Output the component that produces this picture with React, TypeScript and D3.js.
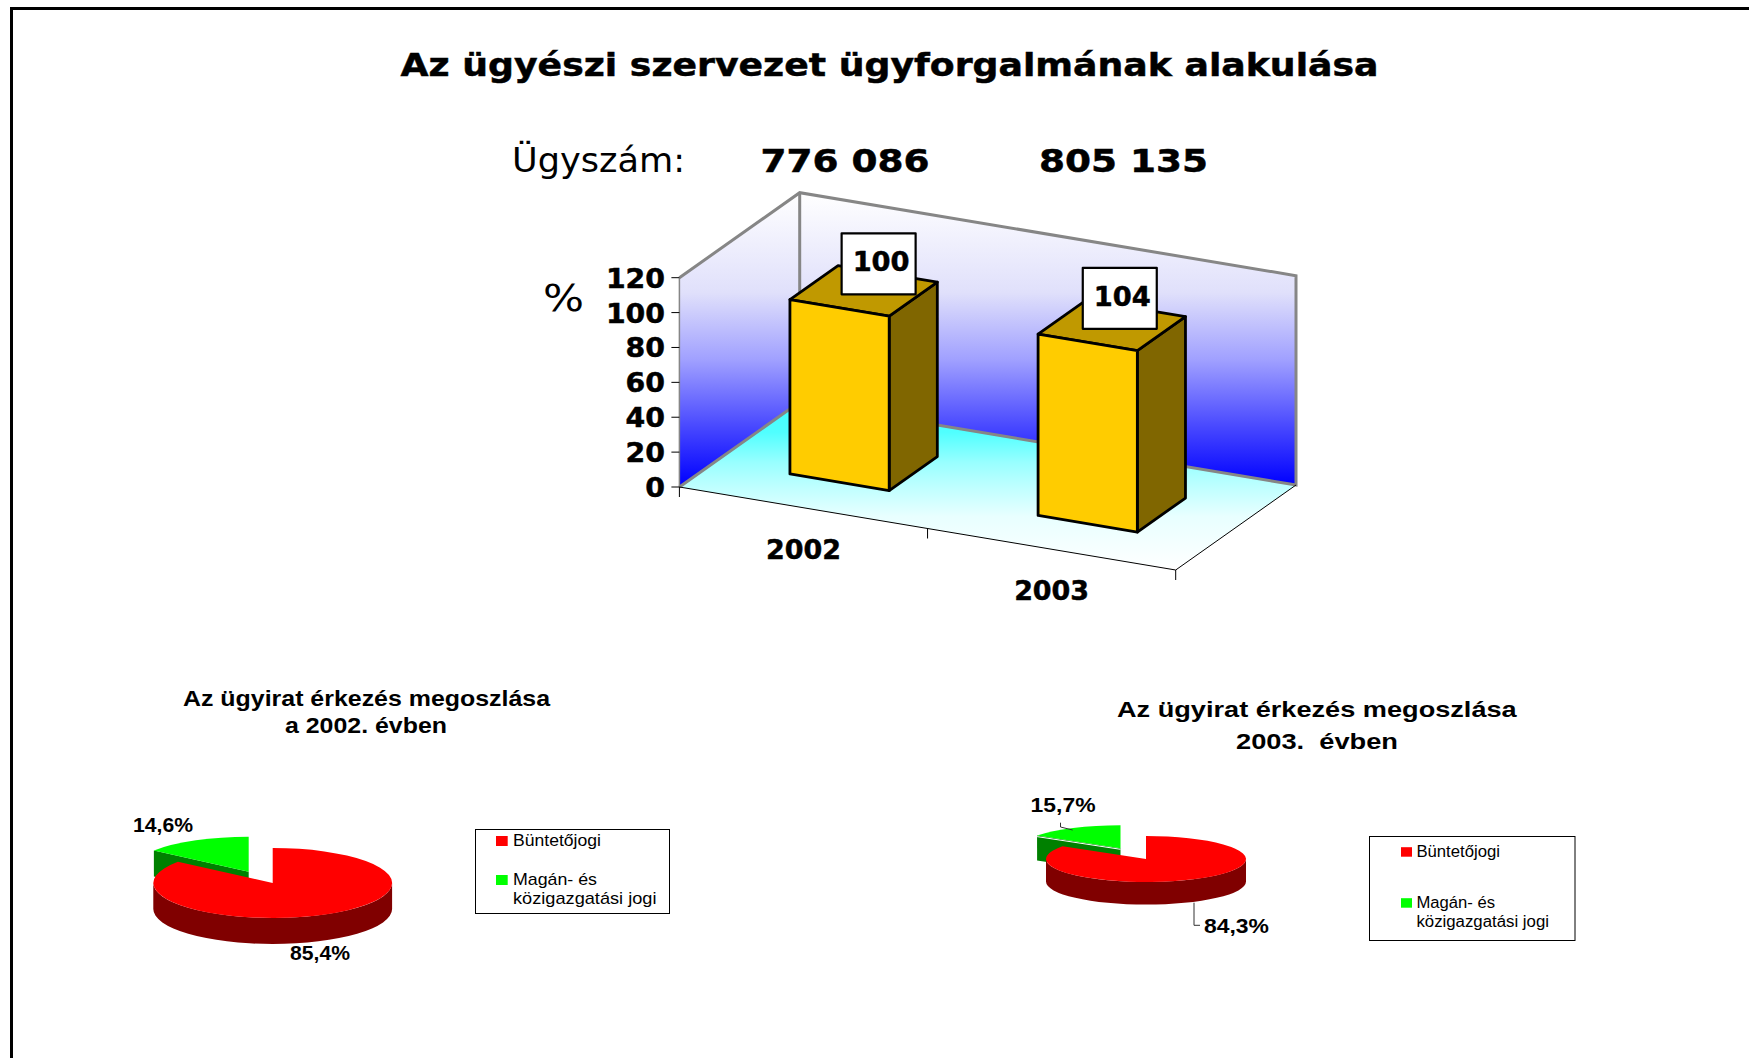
import React from "react";
import * as d3 from "d3";

const mainTitle = "Az ügyészi szervezet ügyforgalmának alakulása";
const caseLabel = "Ügyszám:";
const caseCounts = ["776 086", "805 135"];
const years = ["2002", "2003"];
const indexValues = [100, 104];
const yTicks = [0, 20, 40, 60, 80, 100, 120];
const yUnit = "%";
const legendNames = ["Büntetőjogi", "Magán- és", "közigazgatási jogi"];
const pie2002 = [85.4, 14.6];
const pie2003 = [84.3, 15.7];
const pie2002Title = ["Az ügyirat érkezés megoszlása", "a 2002. évben"];
const pie2003Title = ["Az ügyirat érkezés megoszlása", "2003.  évben"];

const SANS = "'Liberation Sans', Arial, sans-serif";
const WIDE = "'DejaVu Sans', Verdana, sans-serif";

// 3D frame of the bar chart
const O = { x: 679.4, y: 487 };
const W = { x: 496.3, y: 83 };
const D = { x: 120.3, y: -85 };
const yScale = d3.scaleLinear().domain([0, 120]).range([0, 209.3]);
const tScale = d3.scaleBand<string>().domain(years).range([0, 1]).paddingInner(0.6).paddingOuter(0.3);
const P = (t: number, d: number, v: number): [number, number] => [
  O.x + W.x * t + D.x * d,
  O.y + W.y * t + D.y * d - yScale(v),
];
const poly = (pts: [number, number][]) => d3.line()(pts)! + "Z";
const D0 = 0.3;
const D1 = 0.7;
const labelOffsets = [[15, -27], [8, -27]];

const wallStops: [number, string][] = [[0, "#ffffff"], [0.342, "#e0e0fb"], [0.572, "#a0a0ff"], [0.801, "#4848ff"], [1, "#0000ff"]];
const floorStops: [number, string][] = [[0, "#40ffff"], [0.18, "#50ffff"], [0.36, "#98ffff"], [0.48, "#b8ffff"], [0.68, "#e8ffff"], [1, "#ffffff"]];

function T({ x, y, w, size, bold, font = SANS, children, anchor, heavy }: any) {
  return (
    <text x={x} y={y} fontFamily={font} fontSize={size} fontWeight={bold ? 700 : 400} fill="#000"
      stroke={heavy ? "#000" : "none"} strokeWidth={heavy ? 0.5 : 0}
      textLength={w} lengthAdjust="spacingAndGlyphs" textAnchor={anchor} xmlSpace="preserve">
      {children}
    </text>
  );
}

function Pie3D({ values, cx, cy, rx, ry, depth, gx, gy, greenDepth, seam }: any) {
  const arcs = d3.pie<number>().sort(null)(values);
  const ky = ry / rx;
  const arc = d3.arc<any>().innerRadius(0).outerRadius(rx);
  const red = arcs[0];
  const green = arcs[1];
  const band = d3.path();
  const dz = depth / ky;
  band.moveTo(-rx, 0);
  band.lineTo(-rx, dz);
  band.arc(0, dz, rx, Math.PI, 0, true);
  band.lineTo(rx, 0);
  band.arc(0, 0, rx, 0, Math.PI, false);
  band.closePath();
  const a = green.startAngle;
  const tip: [number, number] = [gx + rx * Math.sin(a), gy - ry * Math.cos(a)];
  const apex: [number, number] = [gx, gy];
  return (
    <g>
      <path d={poly([tip, apex, [apex[0], apex[1] + greenDepth], [tip[0], tip[1] + greenDepth]])} fill="#008000" />
      <path d={arc(green)!} transform={`translate(${gx},${gy}) scale(1,${ky})`} fill="#00ff00" />
      {seam && <line x1={tip[0]} y1={tip[1] + 1} x2={apex[0]} y2={apex[1] + 1} stroke="#fff" strokeWidth={1} />}
      <path d={band.toString()} transform={`translate(${cx},${cy}) scale(1,${ky})`} fill="#800000" />
      <path d={arc(red)!} transform={`translate(${cx},${cy}) scale(1,${ky})`} fill="#ff0000" />
    </g>
  );
}

function Legend({ box, swatch, ys, rows, size }: any) {
  return (
    <g>
      <rect x={box[0]} y={box[1]} width={box[2]} height={box[3]} fill="#fff" stroke="#000" strokeWidth={1} />
      <rect x={swatch[0]} y={ys[0] - swatch[2]} width={swatch[1]} height={swatch[2]} fill="#ff0000" />
      <rect x={swatch[0]} y={ys[1] - swatch[2]} width={swatch[1]} height={swatch[2]} fill="#00ff00" />
      {legendNames.map((n, i) => (
        <T key={n} x={rows[0]} y={ys[i]} w={rows[i + 1]} size={size}>{n}</T>
      ))}
    </g>
  );
}

export default function App() {
  const wallTop = P(0, 1, 120)[1];
  const wallBottom = P(1, 1, 0)[1];
  const floorTop = P(0, 1, 0)[1];
  const floorBottom = P(1, 0, 0)[1];
  return (
    <svg width={1749} height={1058} viewBox="0 0 1749 1058" style={{ position: "absolute", left: 0, top: 0, display: "block" }}>
      <defs>
        <linearGradient id="wall" gradientUnits="userSpaceOnUse" x1={0} y1={wallTop} x2={0} y2={wallBottom}>
          {wallStops.map(([o, c]) => <stop key={o} offset={o} stopColor={c} />)}
        </linearGradient>
        <linearGradient id="floor" gradientUnits="userSpaceOnUse" x1={0} y1={floorTop} x2={0} y2={floorBottom}>
          {floorStops.map(([o, c]) => <stop key={o} offset={o} stopColor={c} />)}
        </linearGradient>
      </defs>
      <rect width={1749} height={1058} fill="#fff" />
      <path d="M11.5,1058 V8.5 H1749" fill="none" stroke="#000" strokeWidth={3} />

      <T x={400.5} y={75.7} w={978} size={32} bold heavy font={WIDE}>{mainTitle}</T>
      <T x={512} y={171.7} w={173} size={34} font={WIDE}>{caseLabel}</T>
      <T x={760.5} y={171.7} w={169} size={32} bold heavy font={WIDE}>{caseCounts[0]}</T>
      <T x={1039} y={171.7} w={169} size={32} bold heavy font={WIDE}>{caseCounts[1]}</T>
      <T x={543} y={310.7} w={41} size={38} font={WIDE}>{yUnit}</T>

      {/* walls and floor */}
      <path d={poly([P(0, 1, 0), P(1, 1, 0), P(1, 1, 120), P(0, 1, 120)])} fill="url(#wall)" />
      <path d={poly([P(0, 0, 0), P(0, 1, 0), P(0, 1, 120), P(0, 0, 120)])} fill="url(#wall)" />
      <path d={poly([P(0, 0, 0), P(1, 0, 0), P(1, 1, 0), P(0, 1, 0)])} fill="url(#floor)" />
      <path d={d3.line()([P(0, 0, 120), P(0, 1, 120), P(1, 1, 120), P(1, 1, 0), P(0, 1, 0), P(0, 0, 0)])!} fill="none" stroke="#868686" strokeWidth={3} />
      <path d={d3.line()([P(0, 1, 120), P(0, 1, 0)])!} fill="none" stroke="#868686" strokeWidth={3} />
      <path d={d3.line()([P(0, 0, 0), P(0, 0, 120)])!} fill="none" stroke="#868686" strokeWidth={1.5} />
      <path d={d3.line()([P(0, 0, 0), P(1, 0, 0), P(1, 1, 0)])!} fill="none" stroke="#000" strokeWidth={1} />

      {/* axes */}
      {yTicks.map((v) => {
        const [x, y] = P(0, 0, v);
        return (
          <g key={v}>
            <line x1={x - 8} x2={x} y1={y} y2={y} stroke="#000" strokeWidth={1} />
            <T x={665} y={y + 10} size={27} bold heavy font={WIDE} anchor="end" w={String(v).length * 19.7}>{v}</T>
          </g>
        );
      })}
      {[0, 0.5, 1].map((t) => {
        const [x, y] = P(t, 0, 0);
        return <line key={t} x1={x} x2={x} y1={y} y2={y + 10} stroke="#000" strokeWidth={1} />;
      })}
      {years.map((yr) => {
        const [x, y] = P((tScale(yr)! + tScale.bandwidth() / 2), 0, 0);
        return <T key={yr} x={x - 37.5} y={y + 51} w={75} size={27} bold heavy font={WIDE}>{yr}</T>;
      })}

      {/* bars */}
      {years.map((yr, i) => {
        const t0 = tScale(yr)!;
        const t1 = t0 + tScale.bandwidth();
        const v = indexValues[i];
        const tc = (t0 + t1) / 2;
        const [lx, ly] = P(tc, (D0 + D1) / 2, v);
        const bx = lx + labelOffsets[i][0];
        const by = ly + labelOffsets[i][1];
        return (
          <g key={yr} stroke="#000" strokeWidth={2.8} strokeLinejoin="round">
            <path d={poly([P(t1, D0, 0), P(t1, D1, 0), P(t1, D1, v), P(t1, D0, v)])} fill="#806600" />
            <path d={poly([P(t0, D0, v), P(t1, D0, v), P(t1, D1, v), P(t0, D1, v)])} fill="#c09900" />
            <path d={poly([P(t0, D0, 0), P(t1, D0, 0), P(t1, D0, v), P(t0, D0, v)])} fill="#ffcc00" />
            <rect x={bx - 37} y={by - 30.5} width={74} height={61} fill="#fff" strokeWidth={2.2} />
            <g stroke="none">
              <T x={bx - 26} y={by + 7.5} w={57} size={27} bold heavy font={WIDE}>{v}</T>
            </g>
          </g>
        );
      })}

      {/* 2002 pie */}
      <T x={183} y={705.5} w={367} size={22} bold>{pie2002Title[0]}</T>
      <T x={285} y={733.3} w={162} size={22} bold>{pie2002Title[1]}</T>
      <Pie3D values={pie2002} cx={272.7} cy={883} rx={119.4} ry={35} depth={26} gx={248.7} gy={871.7} greenDepth={26} />
      <T x={133} y={831.7} w={60} size={20} bold>{pie2002[1].toFixed(1).replace(".", ",")}%</T>
      <T x={290} y={960} w={60} size={20} bold>{pie2002[0].toFixed(1).replace(".", ",")}%</T>
      <Legend box={[475.5, 829.5, 194, 84]} swatch={[496, 11.7, 10]} ys={[846, 885, 904]} rows={[513, 88, 84, 143.5]} size={17} />

      {/* 2003 pie */}
      <T x={1117} y={717.3} w={399.7} size={22} bold>{pie2003Title[0]}</T>
      <T x={1236} y={749.3} w={162} size={22} bold>{pie2003Title[1]}</T>
      <Pie3D values={pie2003} cx={1146} cy={859} rx={100} ry={23} depth={22.6} gx={1120.5} gy={848.3} greenDepth={25} seam />
      <path d="M1194,902.7 V925.3 H1200" fill="none" stroke="#333" strokeWidth={1} />
      <path d="M1060.5,822.7 V827 L1072.7,830" fill="none" stroke="#333" strokeWidth={1} />
      <T x={1030.6} y={812.3} w={65} size={21} bold>{pie2003[1].toFixed(1).replace(".", ",")}%</T>
      <T x={1204} y={933.3} w={65} size={21} bold>{pie2003[0].toFixed(1).replace(".", ",")}%</T>
      <Legend box={[1369.5, 836.5, 205.5, 104]} swatch={[1401, 11, 9.5]} ys={[856.7, 907.7, 926.7]} rows={[1416.4, 83.6, 78.6, 132.6]} size={16} />
    </svg>
  );
}
